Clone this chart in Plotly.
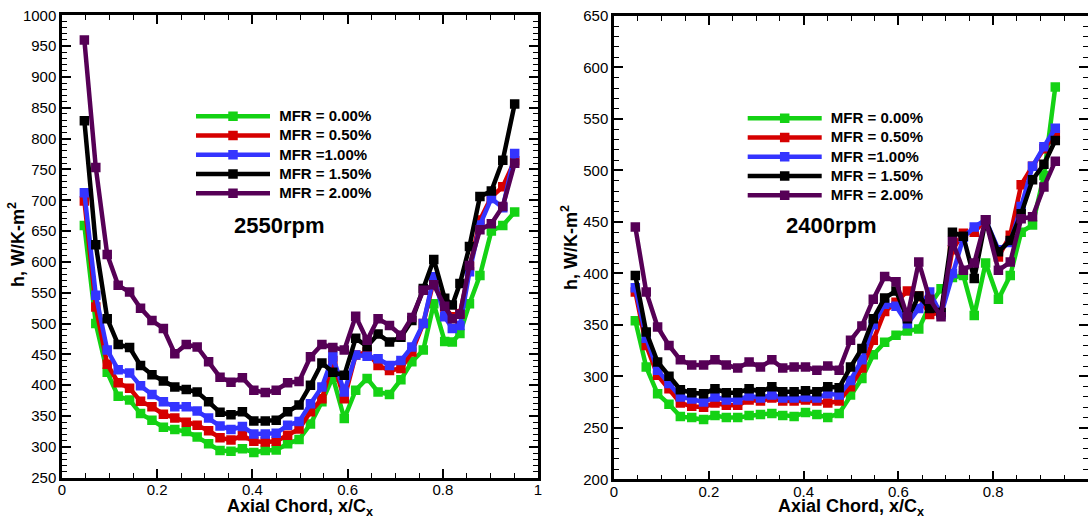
import plotly.graph_objects as go

# ---------------- data ----------------
series_names = ["MFR = 0.00%", "MFR = 0.50%", "MFR =1.00%", "MFR = 1.50%", "MFR = 2.00%"]
series_colors = ["#14D214", "#D60000", "#3434FF", "#000000", "#560056"]

# 2550 rpm
x_2550 = [0.047, 0.071, 0.095, 0.118, 0.142, 0.165, 0.189, 0.213, 0.237, 0.261,
          0.284, 0.308, 0.332, 0.355, 0.379, 0.403, 0.427, 0.450, 0.474, 0.498,
          0.522, 0.546, 0.569, 0.593, 0.617, 0.641, 0.664, 0.688, 0.712, 0.735,
          0.759, 0.781, 0.804, 0.820, 0.836, 0.856, 0.878, 0.902, 0.926, 0.951]
h2550_mfr000 = [659, 500, 421, 382, 376, 354, 343, 332, 328, 325,
                316, 305, 294, 293, 297, 291, 294, 295, 305, 312,
                337, 373, 413, 346, 392, 411, 389, 385, 409, 438,
                457, 532, 471, 470, 484, 532, 578, 650, 659, 681]
h2550_mfr050 = [699, 527, 434, 404, 395, 374, 365, 353, 347, 340,
                335, 326, 315, 311, 318, 309, 308, 309, 319, 329,
                357, 378, 440, 378, 449, 454, 432, 424, 427, 454,
                500, 570, 527, 511, 516, 592, 668, 705, 722, 764]
h2550_mfr100 = [712, 546, 457, 425, 420, 399, 385, 373, 365, 365,
                358, 347, 334, 328, 333, 321, 321, 322, 335, 341,
                370, 397, 446, 389, 449, 447, 443, 432, 440, 462,
                500, 576, 511, 492, 497, 584, 660, 703, 688, 776]
h2550_mfr150 = [829, 628, 508, 466, 461, 432, 417, 407, 397, 393,
                389, 373, 356, 352, 357, 342, 342, 343, 357, 368,
                400, 436, 421, 416, 476, 463, 483, 470, 478, 505,
                557, 604, 541, 530, 565, 625, 706, 715, 765, 856]
h2550_mfr200 = [960, 753, 612, 562, 551, 525, 505, 492, 451, 466,
                462, 438, 413, 405, 412, 392, 388, 392, 404, 406,
                446, 466, 461, 457, 512, 473, 508, 497, 481, 510,
                554, 563, 528, 508, 515, 594, 652, 662, 690, 760]

# 2400 rpm
x_2400 = [0.045, 0.068, 0.092, 0.116, 0.140, 0.164, 0.189, 0.213, 0.237, 0.261,
          0.285, 0.309, 0.333, 0.356, 0.380, 0.404, 0.428, 0.451, 0.475, 0.499,
          0.523, 0.547, 0.571, 0.595, 0.619, 0.643, 0.666, 0.690, 0.714, 0.737,
          0.760, 0.784, 0.811, 0.836, 0.859, 0.883, 0.907, 0.931]
h2400_mfr000 = [354, 309, 283, 273, 261, 260, 258, 262, 260, 260,
                262, 263, 264, 262, 261, 265, 263, 260, 264, 282,
                298, 321, 333, 340, 344, 346, 369, 385, 396, 398,
                359, 410, 375, 398, 440, 447, 495, 581]
h2400_mfr050 = [382, 330, 301, 288, 274, 271, 270, 274, 272, 272,
                277, 276, 279, 276, 276, 277, 276, 274, 276, 290,
                308, 335, 363, 372, 383, 378, 360, 362, 423, 439,
                440, 452, 416, 437, 486, 504, 521, 535]
h2400_mfr100 = [386, 337, 306, 293, 280, 278, 275, 280, 277, 277,
                281, 279, 282, 279, 279, 280, 279, 283, 282, 296,
                316, 350, 370, 368, 351, 366, 382, 360, 400, 435,
                445, 452, 423, 430, 465, 504, 523, 541]
h2400_mfr150 = [398, 343, 314, 300, 287, 284, 283, 288, 284, 284,
                288, 285, 290, 285, 285, 286, 285, 290, 289, 309,
                327, 356, 376, 383, 356, 378, 366, 362, 440, 436,
                395, 452, 421, 432, 458, 491, 506, 529]
h2400_mfr200 = [445, 382, 348, 330, 316, 311, 311, 316, 311, 308,
                314, 309, 316, 308, 309, 309, 306, 310, 306, 335,
                349, 375, 397, 392, 358, 411, 375, 358, 431, 403,
                410, 452, 403, 411, 453, 455, 484, 509]

left_series = [h2550_mfr000, h2550_mfr050, h2550_mfr100, h2550_mfr150, h2550_mfr200]
right_series = [h2400_mfr000, h2400_mfr050, h2400_mfr100, h2400_mfr150, h2400_mfr200]

x_ticks = [0, 0.2, 0.4, 0.6, 0.8, 1]
x_ticklabels = ["0", "0.2", "0.4", "0.6", "0.8", "1"]
left_title = "2550rpm"
right_title = "2400rpm"
x_title = "<b>Axial Chord, x/C<sub>x</sub></b>"
y_title = "<b>h, W/K-m<sup>2</sup></b>"

# ---------------- figure ----------------
W, H = 1088, 521
FONT = "Liberation Sans, Arial, sans-serif"


def legend_label(name):
    return '<span style="font-size:15px">\u00a0' + name + '</span>'


fig = go.Figure()
for name, color, ys in zip(series_names, series_colors, left_series):
    fig.add_trace(go.Scatter(
        x=x_2550, y=ys, name=legend_label(name), mode="lines+markers",
        line=dict(color=color, width=4.5),
        marker=dict(symbol="square", size=9.5, color=color),
        xaxis="x", yaxis="y", legend="legend"))
for name, color, ys in zip(series_names, series_colors, right_series):
    fig.add_trace(go.Scatter(
        x=x_2400, y=ys, name=legend_label(name), mode="lines+markers",
        line=dict(color=color, width=4.5),
        marker=dict(symbol="square", size=9.5, color=color),
        xaxis="x2", yaxis="y2", legend="legend2"))


def px_x(p):
    return p / W


def px_y(p):
    return 1 - p / H


axis_common = dict(
    showline=True, linewidth=2.5, linecolor="black", mirror="allticks",
    ticks="inside", ticklen=9, tickwidth=2, tickcolor="black",
    showgrid=False, zeroline=False, automargin=False,
    tickfont=dict(family=FONT, size=15, color="black"),
)
x_minor = dict(dtick=0.05, ticks="inside", ticklen=5, tickwidth=1.3, tickcolor="black")
y_minor = dict(dtick=10, ticks="inside", ticklen=5, tickwidth=1.3, tickcolor="black")

fig.update_layout(
    width=W, height=H,
    margin=dict(l=0, r=0, t=0, b=0, pad=0),
    paper_bgcolor="white", plot_bgcolor="white",
    showlegend=True,
    xaxis=dict(domain=[px_x(62), px_x(538)], range=[0, 1], anchor="y",
               tickvals=x_ticks, ticktext=x_ticklabels, minor=x_minor,
               ticklabelstandoff=-3, **axis_common),
    yaxis=dict(domain=[px_y(477.7), px_y(15.3)], range=[250, 1000], anchor="x",
               dtick=50, minor=y_minor, **axis_common),
    xaxis2=dict(domain=[px_x(614), 1.0], range=[0, 1.0], anchor="y2",
                tickvals=x_ticks, ticktext=x_ticklabels, minor=x_minor,
                ticklabelstandoff=-3, **axis_common),
    yaxis2=dict(domain=[px_y(479.3), px_y(16)], range=[200, 650], anchor="x2",
                dtick=50, minor=y_minor, **axis_common),
    legend=dict(x=px_x(191), y=px_y(101.5), xanchor="left", yanchor="top",
                bgcolor="rgba(0,0,0,0)", itemwidth=74, tracegroupgap=0,
                font=dict(family=FONT, size=12.5, color="black", weight="bold")),
    legend2=dict(x=px_x(742.7), y=px_y(103.5), xanchor="left", yanchor="top",
                 bgcolor="rgba(0,0,0,0)", itemwidth=74, tracegroupgap=0,
                 font=dict(family=FONT, size=12.5, color="black", weight="bold")),
)

ann_font = dict(family=FONT, size=22, color="black")
title_font = dict(family=FONT, size=18, color="black")
annotations = [
    dict(text="<b>" + left_title + "</b>", x=px_x(279), y=px_y(225), font=ann_font),
    dict(text="<b>" + right_title + "</b>", x=px_x(831), y=px_y(225), font=ann_font),
    dict(text=x_title, x=px_x(300), y=px_y(507), font=title_font),
    dict(text=x_title, x=px_x(851), y=px_y(507), font=title_font),
    dict(text=y_title, x=px_x(17), y=px_y(245), font=title_font, textangle=-90),
    dict(text=y_title, x=px_x(569), y=px_y(248), font=title_font, textangle=-90),
]
for a in annotations:
    fig.add_annotation(xref="paper", yref="paper", showarrow=False,
                       xanchor="center", yanchor="middle", **a)

fig.write_html("out.html")
